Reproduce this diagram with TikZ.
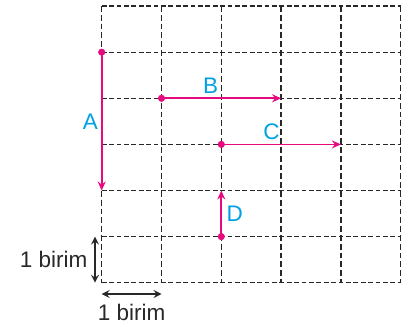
\documentclass[tikz,border=0pt]{standalone}
\usepackage{fontspec}
\setmainfont{Liberation Sans}
\usetikzlibrary{arrows.meta, positioning}
\definecolor{vector_color}{RGB}{230, 10, 126}
\definecolor{label_color}{RGB}{0, 160, 227}
\definecolor{grid_color}{RGB}{40, 40, 40}

\begin{document}
\begin{tikzpicture}[x=59.8pt, y=46.1pt, font=\fontsize{22.5}{27}\selectfont,
    grid_line/.style={line width=1.3pt, grid_color},
    grid_h/.style={grid_line, dash pattern=on 4.8pt off 2.6pt},
    grid_v/.style={grid_line, dash pattern=on 5.8pt off 3pt},
    vector/.style={line width=1.7pt, vector_color, -{Stealth[length=9pt, width=8pt, inset=3pt]}},
    unit_arrow/.style={line width=1.3pt, grid_color, {Stealth[length=8pt, width=8pt, inset=3pt]}-{Stealth[length=8pt, width=8pt, inset=3pt]}},
    vec_label/.style={text=label_color, inner sep=3pt}]

      \useasboundingbox (-1.7007,-1.0694) rectangle (5.0886,6.1323);

      % 1. Cuadrícula punteada (5 x 6)
      \foreach \x in {0,...,5}
        \draw[grid_v] (\x,6) -- (\x,0);
      \foreach \y in {0,...,6}
        \draw[grid_h] (0,\y) -- (5,\y);

      % 2. PUNTOS de inicio y fin de cada vector
      \coordinate (a_start) at (0,5);
      \coordinate (a_end)   at (0,2);
      \coordinate (b_start) at (1,4);
      \coordinate (b_end)   at (3,4);
      \coordinate (c_start) at (2,3);
      \coordinate (c_end)   at (4,3);
      \coordinate (d_start) at (2,1);
      \coordinate (d_end)   at (2,2);

      % 3. VECTORES con sus letras
      % Vector A (hacia abajo)
      \draw[vector] (a_start) -- node[vec_label, left=0pt, name=a_label] {A} (a_end);

      % Vector B (hacia la derecha)
      \draw[vector] (b_start) -- node[vec_label, pos=0.41, above=1.3pt, name=b_label] {B} (b_end);

      % Vector C (hacia la derecha)
      \draw[vector] (c_start) -- node[vec_label, pos=0.42, above=1.3pt, name=c_label] {C} (c_end);

      % Vector D (hacia arriba)
      \draw[vector] (d_start) -- node[vec_label, right=1.5pt, name=d_label] {D} (d_end);

      % Puntos de salida
      \filldraw[vector_color] (a_start) circle (3.3pt);
      \filldraw[vector_color] (b_start) circle (3.3pt);
      \filldraw[vector_color] (c_start) circle (3.3pt);
      \filldraw[vector_color] (d_start) circle (3.3pt);

      % 4. ESCALA (1 birim)
      \coordinate (unit_v_bot) at (-0.112,0);
      \coordinate (unit_v_top) at (-0.112,1);
      \coordinate (unit_h_left)  at (0,-0.245);
      \coordinate (unit_h_right) at (1,-0.245);

      \draw[unit_arrow] (unit_v_bot) -- node[left=7pt, inner sep=0pt, name=unit_v_label] {1 birim} (unit_v_top);
      \draw[unit_arrow] (unit_h_left) -- node[below=10pt, inner sep=0pt, name=unit_h_label] {1 birim} (unit_h_right);

    \end{tikzpicture}
\end{document}
